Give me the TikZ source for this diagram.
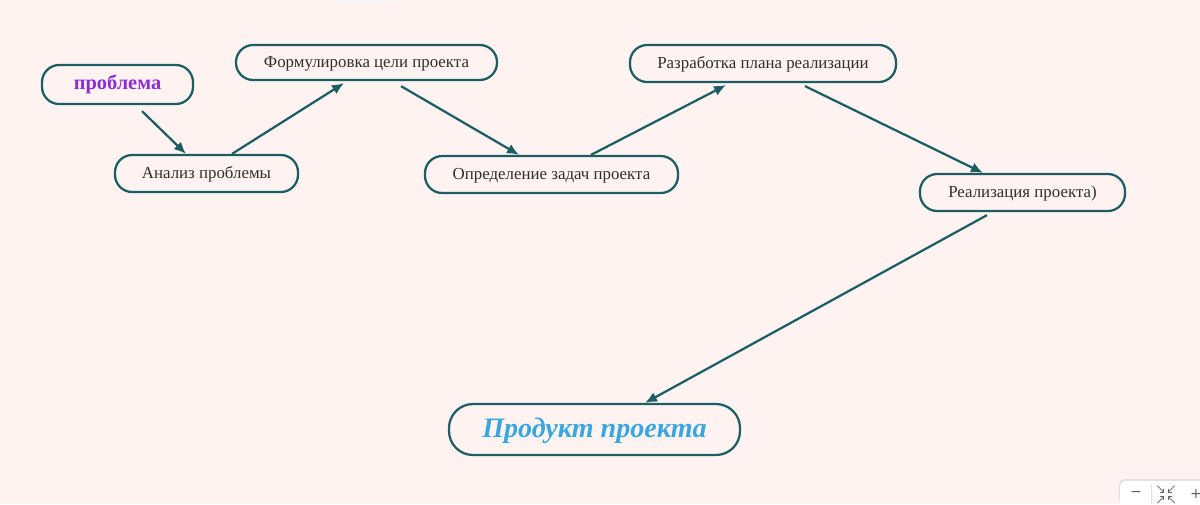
\documentclass[tikz,border=0pt]{standalone}
\usepackage{fontspec}
\setmainfont{Liberation Serif}
\newfontfamily\uifont{DejaVu Sans}
\usepackage{tikz}
\usetikzlibrary{arrows.meta,positioning,calc}
\definecolor{bgpink}{HTML}{FFF3F1}
\definecolor{tealline}{HTML}{1C5E64}
\definecolor{txtgray}{HTML}{2E2E2E}
\definecolor{probpurple}{HTML}{8E2BD8}
\definecolor{prodblue}{HTML}{3AA6DF}
\definecolor{uigray}{HTML}{5F6368}
\tikzset{
  box/.style={draw=tealline, line width=1.6pt, rounded corners=0.43cm, fill=bgpink, inner sep=0pt, minimum height=0.925cm, align=center, text=txtgray, text height=1.55ex, text depth=0.1ex, font=\fontsize{12}{14}\selectfont},
  boxprob/.style={box, minimum height=0.975cm, text=probpurple, font=\fontsize{14.5}{17}\selectfont\bfseries},
  boxprod/.style={box, minimum height=1.275cm, rounded corners=0.6cm, text=prodblue, text height=2.4ex, text depth=0ex, font=\fontsize{20}{24}\selectfont\bfseries\itshape},
  arr/.style={-{Latex[length=3mm,width=2.6mm]}, line width=1.6pt, draw=tealline},
  uibtn/.style={font=\uifont\fontsize{10}{12}\selectfont, text=uigray, inner sep=0pt},
}

\begin{document}
\begin{tikzpicture}
  % page: 1200 x 504 px at 0.025cm per px
  \fill[bgpink] (0,0) rectangle (30,-12.6);
  \useasboundingbox (0,0) rectangle (30,-12.6);
  \fill[gray!8] (8.4,0) rectangle (9.85,-0.05);

  % stages
  \node[boxprob, minimum width=3.775cm] (prob) at (2.9375,-2.1125) {проблема};
  \node[box, minimum width=6.525cm, minimum height=0.875cm] (form) at (9.1625,-1.5625) {Формулировка цели проекта};
  \node[box, minimum width=4.575cm] (anal) at (5.1625,-4.3375) {Анализ проблемы};
  \node[box, minimum width=6.325cm] (opr) at (13.7875,-4.3625) {Определение задач проекта};
  \node[box, minimum width=6.65cm] (razr) at (19.075,-1.5875) {Разработка плана реализации};
  \node[box, minimum width=5.125cm] (real) at (25.5625,-4.8125) {Реализация проекта)};
  \node[boxprod, minimum width=7.275cm] (prod) at (14.8625,-10.7375) {Продукт проекта};

  % links
  \draw[arr] ([shift={(0.6125,-0.15)}]prob.south) -- ([xshift=-0.5125cm]anal.north);
  \draw[arr] ([xshift=0.6375cm]anal.north) -- ([shift={(-0.5625,-0.05)}]form.south);
  \draw[arr] ([shift={(0.8625,-0.125)}]form.south) -- ([xshift=-0.8125cm]opr.north);
  \draw[arr] ([xshift=0.9875cm]opr.north) -- ([shift={(-0.925,-0.05)}]razr.south);
  \draw[arr] ([shift={(1.05,-0.075)}]razr.south) -- ([xshift=-0.9875cm]real.north);
  \draw[arr] ([shift={(-0.8875,-0.075)}]real.south) -- ([xshift=1.2625cm]prod.north);

  % zoom widget
  \fill[gray!25, rounded corners=0.15cm] (27.97,-12.6) |- (30.2,-11.98) -- (30.2,-12.6) -- cycle;
  \fill[white, rounded corners=0.15cm] (28,-12.7) |- (30.2,-12.02) -- (30.2,-12.7) -- cycle;
  \draw[gray!25, line width=0.4pt] (28.78,-12.1) -- (28.78,-12.6);
  \node[uibtn] (zminus) at (28.4,-12.36) {−};
  \node[uibtn] (zplus) at (29.9,-12.34) {+};
  \begin{scope}[uigray, line width=0.5pt, shift={(29.15,-12.36)}]
    \foreach \sx/\sy in {1/1,-1/1,1/-1,-1/-1}{
      \draw (0.22*\sx,0.22*\sy) -- (0.06*\sx,0.06*\sy);
      \draw (0.06*\sx,0.06*\sy) -- (0.06*\sx,0.14*\sy);
      \draw (0.06*\sx,0.06*\sy) -- (0.14*\sx,0.06*\sy);
    }
  \end{scope}
\end{tikzpicture}
\end{document}
